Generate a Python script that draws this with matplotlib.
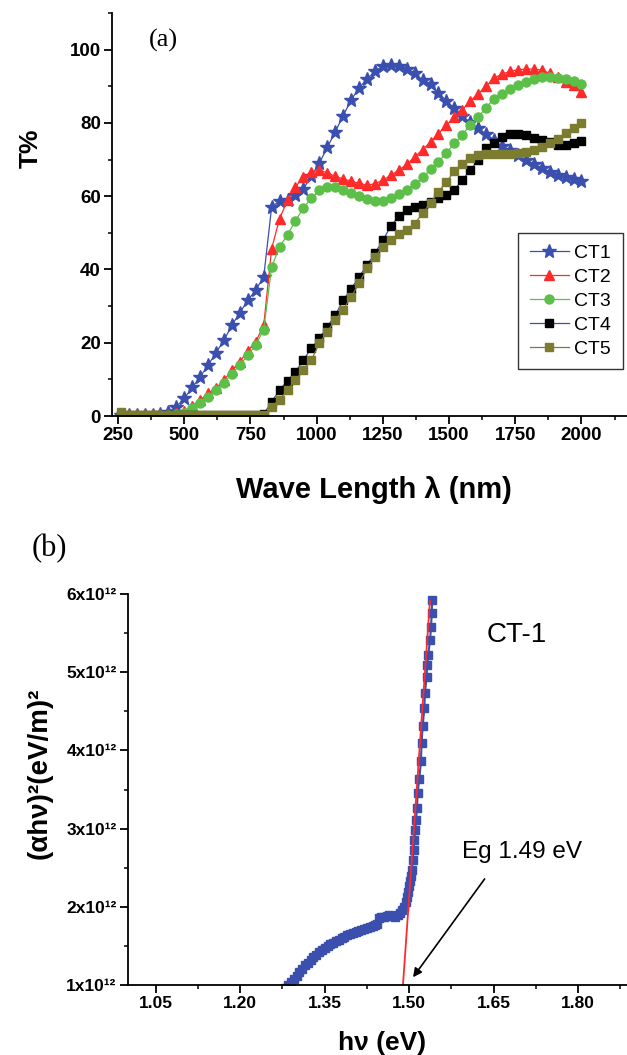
import matplotlib
matplotlib.use("Agg")
import matplotlib.pyplot as plt
from matplotlib.ticker import MultipleLocator, FuncFormatter

plt.rcParams['font.family'] = ['Liberation Sans', 'DejaVu Sans']

# ---------------- Panel (a) data ----------------
wavelength = [260, 290, 320, 350, 380, 410, 440, 470, 500, 530, 560, 590, 620, 650, 680,
              710, 740, 770, 800, 830, 860, 890, 920, 950, 980, 1010, 1040, 1070, 1100,
              1130, 1160, 1190, 1220, 1250, 1280, 1310, 1340, 1370, 1400, 1430, 1460, 1490,
              1520, 1550, 1580, 1610, 1640, 1670, 1700, 1730, 1760, 1790, 1820, 1850, 1880,
              1910, 1940, 1970, 2000]

ct1 = [0.3, 0.3, 0.3, 0.3, 0.4, 0.6, 1.2, 2.5, 4.8, 7.8, 10.7, 13.9, 17.3, 20.7, 24.8,
       28.2, 31.6, 34.4, 38.0, 57.1, 58.7, 58.9, 60.3, 62.0, 65.5, 69.0, 73.3, 77.5, 82.0,
       86.2, 89.6, 91.9, 94.1, 95.5, 95.9, 95.5, 94.6, 93.5, 91.7, 90.5, 88.2, 86.0,
       84.0, 81.8, 80.2, 78.5, 77.0, 75.3, 73.6, 72.5, 71.2, 69.9, 68.7, 67.6, 66.6,
       65.9, 65.3, 64.8, 64.2]

ct2 = [0.5, 0.5, 0.5, 0.5, 0.5, 0.5, 0.6, 0.8, 1.3, 2.8, 4.3, 6.2, 7.6, 9.8, 12.5,
       14.8, 17.8, 20.3, 24.8, 45.7, 53.9, 58.9, 62.5, 65.3, 66.6, 67.1, 66.4, 65.4, 64.7,
       64.1, 63.5, 63.0, 63.4, 64.4, 65.7, 67.1, 68.7, 70.7, 72.7, 74.8, 77.1, 79.4,
       81.5, 83.6, 86.0, 88.0, 90.0, 92.3, 93.3, 94.1, 94.5, 94.7, 94.7, 94.4, 93.6,
       92.5, 91.2, 90.3, 88.4]

ct3 = [0.3, 0.3, 0.3, 0.3, 0.3, 0.3, 0.3, 0.5, 0.9, 2.1, 3.5, 5.2, 7.0, 9.1, 11.6,
       13.9, 16.6, 19.4, 23.6, 40.7, 46.2, 49.5, 53.3, 56.8, 59.4, 61.6, 62.5, 62.4, 61.7,
       60.9, 60.0, 59.1, 58.7, 58.7, 59.4, 60.5, 61.8, 63.3, 65.1, 67.3, 69.4, 71.8,
       74.4, 76.8, 79.4, 81.6, 84.2, 86.6, 88.0, 89.2, 90.3, 91.2, 91.9, 92.4, 92.5,
       92.3, 91.9, 91.4, 90.7]

ct4 = [0.3, 0.3, 0.3, 0.3, 0.3, 0.3, 0.3, 0.3, 0.3, 0.3, 0.3, 0.3, 0.3, 0.3, 0.3,
       0.3, 0.3, 0.3, 0.5, 3.9, 7.1, 9.6, 12.1, 15.3, 18.5, 21.2, 24.4, 27.5, 31.6,
       34.7, 38.0, 41.2, 44.4, 48.0, 51.8, 54.5, 56.2, 57.1, 57.5, 58.4, 59.4, 60.3,
       61.8, 64.4, 67.1, 69.8, 73.2, 74.5, 76.2, 76.9, 77.1, 76.6, 75.9, 75.3, 74.8,
       73.9, 73.9, 74.5, 75.1]

ct5 = [1.0, 0.3, 0.3, 0.3, 0.3, 0.3, 0.3, 0.3, 0.3, 0.3, 0.3, 0.3, 0.3, 0.3, 0.3,
       0.3, 0.3, 0.3, 0.3, 2.5, 4.5, 7.1, 9.8, 12.5, 15.3, 19.8, 23.0, 26.2, 29.0,
       32.5, 36.2, 40.3, 43.4, 46.2, 48.0, 49.6, 50.7, 52.5, 55.3, 58.2, 61.2, 63.9,
       66.8, 68.9, 70.3, 71.2, 71.6, 71.6, 71.6, 71.6, 71.8, 72.1, 72.5, 73.4, 74.4,
       75.7, 77.3, 78.7, 80.1]

series_names = ["CT1", "CT2", "CT3", "CT4", "CT5"]

# ---------------- Panel (b) data ----------------
hv = [1.275, 1.280, 1.285, 1.290, 1.295, 1.300, 1.305, 1.310, 1.315, 1.320, 1.325,
      1.330, 1.335, 1.340, 1.345, 1.350, 1.355, 1.360, 1.365, 1.370, 1.375, 1.380,
      1.385, 1.390, 1.395, 1.400, 1.405, 1.410, 1.415, 1.420, 1.425, 1.430, 1.435,
      1.440, 1.443, 1.446, 1.450, 1.455, 1.460, 1.465, 1.470, 1.475, 1.480, 1.484,
      1.488, 1.491, 1.494, 1.496, 1.498, 1.500, 1.502, 1.503, 1.505, 1.506, 1.508,
      1.509, 1.511, 1.512, 1.514, 1.515, 1.518, 1.521, 1.522, 1.524, 1.527, 1.528,
      1.531, 1.532, 1.534, 1.537, 1.539, 1.540, 1.541]
ahv2 = [0.92, 0.96, 1.00, 1.04, 1.08, 1.12, 1.165, 1.21, 1.25, 1.285, 1.32,
        1.355, 1.39, 1.42, 1.445, 1.47, 1.495, 1.52, 1.54, 1.56, 1.58, 1.60,
        1.62, 1.635, 1.65, 1.665, 1.68, 1.695, 1.705, 1.72, 1.73, 1.745, 1.755,
        1.77, 1.78, 1.86, 1.87, 1.865, 1.88, 1.89, 1.885, 1.875, 1.89, 1.92,
        1.96, 2.00, 2.06, 2.12, 2.19, 2.26, 2.33, 2.40, 2.47, 2.60, 2.73,
        2.85, 2.98, 3.11, 3.26, 3.45, 3.64, 3.86, 4.09, 4.31, 4.54, 4.73,
        4.94, 5.09, 5.22, 5.41, 5.58, 5.76, 5.92]  # x 1e12
fit_hv = [1.489, 1.537]
fit_y = [1.0, 5.915]  # x 1e12
scale = 1e12

# ---------------- Figure ----------------
W, H = 627, 1055
fig = plt.figure(figsize=(W / 100, H / 100), dpi=100)

def px_axes(left, top, right, bottom):
    return fig.add_axes([left / W, 1 - bottom / H, (right - left) / W, (bottom - top) / H])

BLUE = "#3a4fae"
RED = "#ff2a2a"
GREEN = "#5cbf48"
OLIVE = "#7c7c30"

def style_axes(ax, fs):
    for s in ("top", "right"):
        ax.spines[s].set_visible(False)
    for s in ("left", "bottom"):
        ax.spines[s].set_linewidth(1.3)
    ax.tick_params(which="major", direction="out", length=6, width=1.3, labelsize=fs, pad=2)
    ax.tick_params(which="minor", direction="out", length=3, width=1.1)
    for lab in ax.get_xticklabels() + ax.get_yticklabels():
        lab.set_fontweight("bold")

# Panel (a)
ax1 = px_axes(112, 13, 627, 416)
ax1.plot(wavelength, ct1, color=BLUE, lw=0.9, marker="*", ms=10, mfc=BLUE, mec=BLUE, label=series_names[0])
ax1.plot(wavelength, ct2, color=RED, lw=0.9, marker="^", ms=7, mfc=RED, mec=RED, label=series_names[1])
ax1.plot(wavelength, ct3, color=GREEN, lw=0.9, marker="o", ms=6.5, mfc=GREEN, mec=GREEN, label=series_names[2])
ax1.plot(wavelength, ct4, color=BLUE, lw=0.9, marker="s", ms=5.5, mfc="black", mec="black", label=series_names[3])
ax1.plot(wavelength, ct5, color=OLIVE, lw=0.9, marker="s", ms=5.8, mfc=OLIVE, mec=OLIVE, label=series_names[4])
ax1.set_xlim(227, 2172)
ax1.set_ylim(0, 110)
ax1.xaxis.set_minor_locator(MultipleLocator(125))
ax1.yaxis.set_major_locator(MultipleLocator(20))
ax1.yaxis.set_minor_locator(MultipleLocator(10))
ax1.set_xticks([250, 500, 750, 1000, 1250, 1500, 1750, 2000])
style_axes(ax1, 13.5)
leg = ax1.legend(loc="upper left", bbox_to_anchor=((518 - 112) / 515, (416 - 233) / 403),
                 borderaxespad=0, frameon=True, fancybox=False, fontsize=14,
                 handlelength=2.0, labelspacing=0.32, borderpad=0.6, handletextpad=0.3)
leg.get_frame().set_edgecolor("black")
leg.get_frame().set_linewidth(1.0)

# Panel (b)
ax2 = px_axes(127.7, 594, 627, 985)
hv_y = [v * scale for v in ahv2]
ax2.plot(hv, hv_y, color=BLUE, lw=1.5, marker="s", ms=6.0, mfc=BLUE, mec=BLUE)
ax2.plot(fit_hv, [v * scale for v in fit_y], color=RED, lw=1.3)
ax2.set_xlim(1.0, 1.887)
ax2.set_ylim(1e12, 6e12)
ax2.set_xticks([1.05, 1.20, 1.35, 1.50, 1.65, 1.80])
ax2.xaxis.set_minor_locator(MultipleLocator(0.075))
ax2.yaxis.set_major_locator(MultipleLocator(1e12))
ax2.yaxis.set_minor_locator(MultipleLocator(0.5e12))
ax2.xaxis.set_major_formatter(FuncFormatter(lambda v, p: f"{v:.2f}"))
ax2.yaxis.set_major_formatter(FuncFormatter(lambda v, p: f"{int(round(v / 1e12))}x10\u00b9\u00b2"))
style_axes(ax2, 12.5)

ax2.text(1.638, 5.39e12, "CT-1", fontsize=20, ha="left", va="baseline")
ax2.text(1.594, 2.624e12, "Eg 1.49 eV", fontsize=17.5, ha="left", va="baseline")
ax2.annotate("", xy=(1.504, 1.07e12), xytext=(1.637, 2.385e12),
             arrowprops=dict(arrowstyle="-|>", color="black", lw=1.2, mutation_scale=13))

# Labels
fig.text(163 / W, 1 - 40 / H, "(a)", fontsize=19, family="Liberation Serif", ha="center", va="center")
fig.text(49 / W, 1 - 549 / H, "(b)", fontsize=22, family="Liberation Serif", ha="center", va="center")
fig.text(31 / W, 1 - 148 / H, "T%", fontsize=19, fontweight="bold", rotation=90, ha="center", va="center")
fig.text(374 / W, 1 - 490 / H, "Wave Length λ (nm)", fontsize=21, fontweight="bold", ha="center", va="center")
fig.text(40 / W, 1 - 773 / H, "(αhν)²(eV/m)²", fontsize=20, fontweight="bold", rotation=90, ha="center", va="center")
fig.text(382 / W, 1 - 1043 / H, "hν (eV)", fontsize=19, fontweight="bold", ha="center", va="center")

fig.savefig("out.png", dpi=100)
